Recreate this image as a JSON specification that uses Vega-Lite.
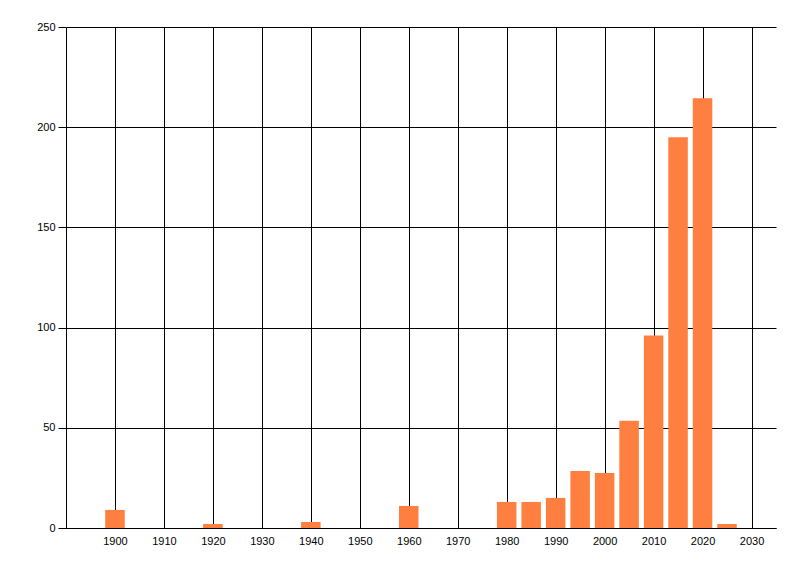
{
  "$schema": "https://vega.github.io/schema/vega-lite/v6.json",
  "autosize": {"type": "none"},
  "width": 710,
  "height": 501,
  "padding": {"left": 66, "top": 27, "right": 24, "bottom": 48},
  "background": "white",
  "config": {
    "view": {"stroke": null},
    "font": "Liberation Sans"
  },
  "data": {
    "values": [
      {"year": 1900, "count": 9},
      {"year": 1920, "count": 2},
      {"year": 1940, "count": 3},
      {"year": 1960, "count": 11},
      {"year": 1980, "count": 13},
      {"year": 1985, "count": 13},
      {"year": 1990, "count": 15},
      {"year": 1995, "count": 28.5},
      {"year": 2000, "count": 27.5},
      {"year": 2005, "count": 53.5},
      {"year": 2010, "count": 96},
      {"year": 2015, "count": 195},
      {"year": 2020, "count": 214.5},
      {"year": 2025, "count": 2}
    ]
  },
  "mark": {"type": "bar", "color": "#FF7F40", "size": 19.5},
  "encoding": {
    "x": {
      "field": "year",
      "type": "quantitative",
      "scale": {"domain": [1890, 2035], "nice": false, "zero": false, "padding": 0},
      "axis": {
        "title": null,
        "values": [1900, 1910, 1920, 1930, 1940, 1950, 1960, 1970, 1980, 1990, 2000, 2010, 2020, 2030],
        "format": "d",
        "grid": true,
        "gridColor": "black",
        "gridOpacity": 1,
        "gridWidth": 1,
        "domainColor": "black",
        "domainWidth": 1,
        "ticks": false,
        "labelPadding": 7,
        "labelFontSize": 11,
        "labelColor": "black"
      }
    },
    "y": {
      "field": "count",
      "type": "quantitative",
      "scale": {"domain": [0, 250], "nice": false},
      "axis": {
        "title": null,
        "values": [0, 50, 100, 150, 200, 250],
        "grid": true,
        "gridColor": "black",
        "gridOpacity": 1,
        "gridWidth": 1,
        "domainColor": "black",
        "domainWidth": 1,
        "tickColor": "black",
        "tickSize": 8,
        "labelPadding": 3,
        "labelFontSize": 11,
        "labelColor": "black"
      }
    }
  }
}
